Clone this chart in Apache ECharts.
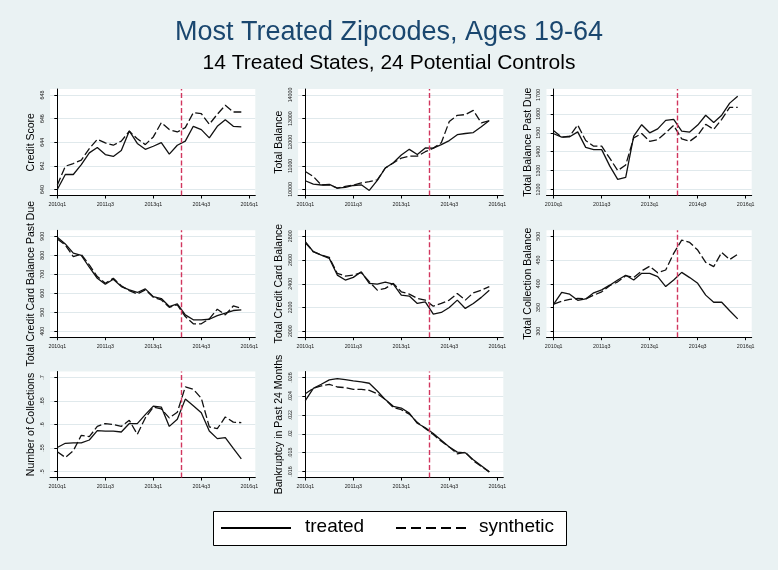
<!DOCTYPE html>
<html><head><meta charset="utf-8">
<script src="https://cdn.jsdelivr.net/npm/echarts@6/dist/echarts.min.js"></script>
<style>html,body{margin:0;padding:0;background:#eaf2f3}#c{width:778px;height:570px}</style>
</head><body><div id="c"></div>
<script>
// ---------- data ----------
const quarters = ['2010q1','2010q2','2010q3','2010q4','2011q1','2011q2','2011q3','2011q4',
  '2012q1','2012q2','2012q3','2012q4','2013q1','2013q2','2013q3','2013q4',
  '2014q1','2014q2','2014q3','2014q4','2015q1','2015q2','2015q3','2015q4'];
const xTickLabels = ['2010q1','2011q3','2013q1','2014q3','2016q1'];
const treatmentLinePos = 15.5; // between 2013q4 and 2014q1
const legendNames = ['treated','synthetic'];

const creditScoreTreated   = [640.0,641.27,641.27,642.1,643.1,643.55,642.96,642.8,643.3,644.96,643.9,643.4,643.66,643.97,643.0,643.75,644.1,645.35,645.07,644.37,645.35,645.9,645.35,645.3];
const creditScoreSynthetic = [640.37,641.97,642.2,642.48,643.46,644.25,643.94,643.75,644.1,644.93,644.3,643.8,644.45,645.66,645.07,644.87,645.24,646.5,646.42,645.52,646.37,647.13,646.56,646.56];
const creditScoreTicks = [640,642,644,646,648];

const totalBalanceTreated   = [10370,10230,10190,10214,10060,10090,10170,10200,9960,10390,10910,11130,11460,11700,11480,11760,11750,11900,12070,12320,12370,12410,12660,12920];
const totalBalanceSynthetic = [10760,10550,10190,10200,10060,10130,10190,10280,10330,10410,10910,11120,11330,11410,11410,11600,11750,11980,12880,13140,13170,13350,12820,12915];
const totalBalanceTicks = [10000,11000,12000,13000,14000];

const pastDueTreated   = [1495,1477,1479,1505,1423,1411,1411,1325,1254,1264,1482,1543,1500,1521,1566,1571,1509,1504,1541,1593,1554,1593,1657,1693];
const pastDueSynthetic = [1511,1477,1482,1541,1459,1429,1429,1366,1300,1330,1473,1496,1455,1464,1500,1539,1468,1455,1486,1545,1518,1571,1634,1634];
const pastDueTicks = [1200,1300,1400,1500,1600,1700];

const ccPastDueTreated   = [895,860,811,800,737,679,647,674,635,618,604,623,582,572,530,544,486,460,460,463,482,495,509,512];
const ccPastDueSynthetic = [886,854,793,805,749,688,653,679,639,614,596,618,579,565,526,539,477,439,439,465,516,486,533,521];
const ccPastDueTicks = [400,500,600,700,800,900];

const ccBalanceTreated   = [2755,2670,2642,2614,2473,2431,2454,2501,2403,2397,2414,2397,2304,2296,2234,2248,2144,2158,2200,2262,2192,2234,2285,2346];
const ccBalanceSynthetic = [2746,2670,2642,2622,2487,2465,2473,2493,2417,2346,2361,2403,2332,2313,2276,2262,2211,2234,2262,2318,2262,2324,2346,2375];
const ccBalanceTicks = [2000,2200,2400,2600,2800];

const collBalanceTreated   = [357,382,378,365,368,381,387,397,408,418,408,422,422,415,394,408,424,413,401,376,361,361,343,326];
const collBalanceSynthetic = [357,363,367,369,368,376,383,396,404,417,413,427,437,423,429,464,492,487,471,445,436,466,451,462];
const collBalanceTicks = [300,350,400,450,500];

const numCollTreated   = [0.551,0.560,0.561,0.561,0.567,0.587,0.586,0.586,0.584,0.602,0.602,0.621,0.639,0.637,0.596,0.611,0.654,0.640,0.625,0.586,0.570,0.572,0.549,0.527];
const numCollSynthetic = [0.542,0.530,0.544,0.577,0.574,0.596,0.602,0.600,0.596,0.609,0.579,0.614,0.637,0.633,0.614,0.626,0.680,0.675,0.656,0.595,0.591,0.616,0.605,0.604];
const numCollTicks = [0.5,0.55,0.6,0.65,0.7];

const bankruptcyTreated   = [0.02355,0.02485,0.02528,0.02575,0.02589,0.02578,0.02564,0.02553,0.02539,0.02456,0.02365,0.02293,0.02275,0.02221,0.02113,0.02066,0.02004,0.01932,0.0186,0.01806,0.01799,0.01726,0.01661,0.01596];
const bankruptcySynthetic = [0.02427,0.02485,0.0251,0.02528,0.02499,0.02492,0.02474,0.02474,0.02463,0.02427,0.02365,0.02282,0.02257,0.0221,0.02123,0.02058,0.01993,0.01921,0.0186,0.01788,0.01806,0.01715,0.01654,0.01596];
const bankruptcyTicks = [0.016,0.018,0.02,0.022,0.024,0.026];

const panelTitles = ['Credit Score','Total Balance','Total Balance Past Due',
  'Total Credit Card Balance Past Due','Total Credit Card Balance','Total Collection Balance',
  'Number of Collections','Bankruptcy in Past 24 Months'];

// ---------- layout ----------
const panels = [
  [creditScoreTreated, creditScoreSynthetic, creditScoreTicks],
  [totalBalanceTreated, totalBalanceSynthetic, totalBalanceTicks],
  [pastDueTreated, pastDueSynthetic, pastDueTicks],
  [ccPastDueTreated, ccPastDueSynthetic, ccPastDueTicks],
  [ccBalanceTreated, ccBalanceSynthetic, ccBalanceTicks],
  [collBalanceTreated, collBalanceSynthetic, collBalanceTicks],
  [numCollTreated, numCollSynthetic, numCollTicks],
  [bankruptcyTreated, bankruptcySynthetic, bankruptcyTicks]
];
const rowsPx = [[95,189.5],[236.3,331.2],[377.5,471.5]];
const colsPx = [57.3,305.3,553.7];
const qPx = 8, pad = 6, xMin = -0.9, xMax = 24.75;
const FONT = '"Liberation Sans", Arial, sans-serif';

function qIndex(label){ const y = +label.slice(0,4), q = +label.slice(5); return (y-2010)*4 + (q-1); }
const xTickVals = xTickLabels.map(qIndex);
const fmtNum = v => { const s = String(+v.toFixed(4)); return s.replace(/^0\./,'.'); };

const grids = [], xAxes = [], yAxes = [], series = [];
panels.forEach((p, i) => {
  const [tr, sy, ticks] = p;
  const row = Math.floor(i/3), col = i%3;
  const [tTop, tBot] = rowsPx[row];
  const lo = ticks[0], hi = ticks[ticks.length-1];
  const perPx = (hi-lo)/(tBot-tTop);
  grids.push({left: colsPx[col] + xMin*qPx, width: (xMax-xMin)*qPx, top: tTop-pad, height: tBot-tTop+2*pad,
    show: true, backgroundColor: '#ffffff', borderWidth: 0, containLabel: false});
  xAxes.push({type:'value', gridIndex:i, min:xMin, max:xMax,
    axisLine:{show:true, onZero:false, lineStyle:{color:'#000', width:1}},
    axisTick:{show:true, length:3, customValues:xTickVals, lineStyle:{color:'#000'}},
    axisLabel:{customValues:xTickVals, fontSize:5.3, color:'#222', fontFamily:FONT, margin:6.5,
      formatter: v => xTickLabels[xTickVals.indexOf(Math.round(v))] || ''},
    splitLine:{show:false}});
  yAxes.push({type:'value', gridIndex:i, min: lo - pad*perPx, max: hi + pad*perPx,
    name: panelTitles[i], nameLocation:'middle', nameRotate:90, nameGap:13,
    nameTextStyle:{fontSize:10.5, color:'#000', fontFamily:FONT},
    axisLine:{show:true, lineStyle:{color:'#000', width:1}},
    axisTick:{show:true, length:3, customValues:ticks, lineStyle:{color:'#000'}},
    axisLabel:{customValues:ticks, rotate:90, fontSize:5.3, color:'#222', fontFamily:FONT, margin:5,
      formatter: v => fmtNum(v)},
    splitLine:{show:true, lineStyle:{color:'#e0e9ec', width:1}}});
  series.push({name:legendNames[0], type:'line', xAxisIndex:i, yAxisIndex:i, symbol:'none',
    data: quarters.map((q,k)=>[qIndex(q), tr[k]]),
    lineStyle:{color:'#111', width:1.3, type:'solid'}, itemStyle:{color:'#111'},
    markLine:{silent:true, symbol:'none', label:{show:false},
      lineStyle:{color:'#d1365e', width:1.4, type:[5,2.5]}, data:[{xAxis: treatmentLinePos}]}});
  series.push({name:legendNames[1], type:'line', xAxisIndex:i, yAxisIndex:i, symbol:'none',
    data: quarters.map((q,k)=>[qIndex(q), sy[k]]),
    lineStyle:{color:'#111', width:1.3, type:[8,3]}, itemStyle:{color:'#111'}});
});

// legend box drawn as graphic (box, key lines, real text)
const legendGraphic = [
  {type:'rect', left:213, top:511, shape:{width:353, height:34}, style:{fill:'#fff', stroke:'#000', lineWidth:1}},
  {type:'line', shape:{x1:221, y1:528, x2:291, y2:528}, style:{stroke:'#000', lineWidth:2}},
  {type:'text', left:305, top:517, style:{text:legendNames[0], fontSize:19, fill:'#000', fontFamily:FONT}},
  {type:'line', shape:{x1:396, y1:528, x2:467, y2:528}, style:{stroke:'#000', lineWidth:2, lineDash:[10,5]}},
  {type:'text', left:479, top:517, style:{text:legendNames[1], fontSize:19, fill:'#000', fontFamily:FONT}}
];

const chart = echarts.init(document.getElementById('c'), null, {renderer:'canvas'});
chart.setOption({
  animation:false,
  backgroundColor:'#eaf2f3',
  title:[
    {text:'Most Treated Zipcodes, Ages 19-64', left:'center', top:19, padding:0,
      textStyle:{fontSize:27, fontWeight:'normal', color:'#1a476f', fontFamily:FONT}},
    {text:'14 Treated States, 24 Potential Controls', left:'center', top:53, padding:0,
      textStyle:{fontSize:21, fontWeight:'normal', color:'#000', fontFamily:FONT}}
  ],
  graphic: legendGraphic,
  grid:grids, xAxis:xAxes, yAxis:yAxes, series:series
});
</script></body></html>
